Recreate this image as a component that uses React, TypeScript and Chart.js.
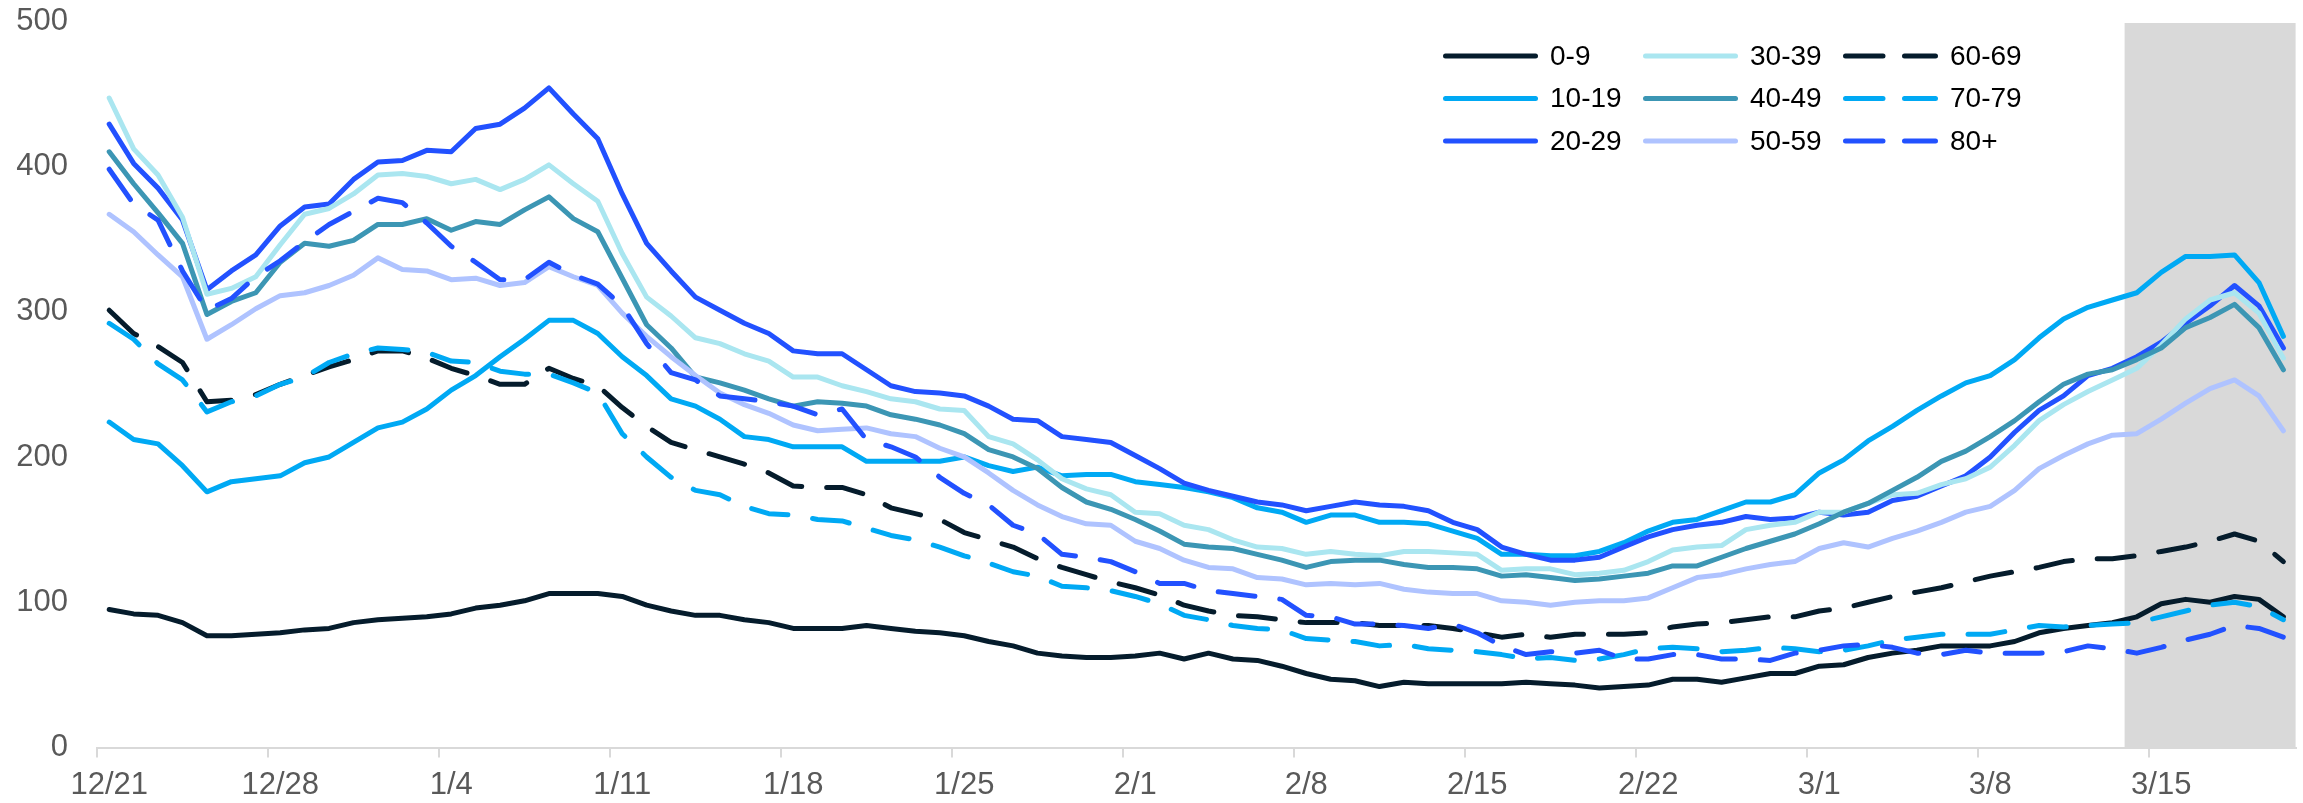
import React, { useEffect, useRef } from 'react';
import { Chart, registerables } from 'chart.js';

Chart.register(...registerables);

// ---------- data ----------
const categories = [
  '12/21', '12/22', '12/23', '12/24', '12/25', '12/26', '12/27', '12/28', '12/29', '12/30', '12/31',
  '1/1', '1/2', '1/3', '1/4', '1/5', '1/6', '1/7', '1/8', '1/9', '1/10', '1/11', '1/12', '1/13', '1/14', '1/15',
  '1/16', '1/17', '1/18', '1/19', '1/20', '1/21', '1/22', '1/23', '1/24', '1/25', '1/26', '1/27', '1/28', '1/29',
  '1/30', '1/31',
  '2/1', '2/2', '2/3', '2/4', '2/5', '2/6', '2/7', '2/8', '2/9', '2/10', '2/11', '2/12', '2/13', '2/14', '2/15',
  '2/16', '2/17', '2/18', '2/19', '2/20', '2/21', '2/22', '2/23', '2/24', '2/25', '2/26', '2/27', '2/28',
  '3/1', '3/2', '3/3', '3/4', '3/5', '3/6', '3/7', '3/8', '3/9', '3/10', '3/11', '3/12', '3/13', '3/14', '3/15',
  '3/16', '3/17', '3/18', '3/19', '3/20',
];

const tickLabels = ['12/21', '12/28', '1/4', '1/11', '1/18', '1/25', '2/1', '2/8', '2/15', '2/22', '3/1', '3/8', '3/15'];
const shadeStart = '3/14';

const yTicks = [0, 100, 200, 300, 400, 500];

const age0to9 = [
  95, 92, 91, 86, 77, 77, 78, 79, 81, 82,
  86, 88, 89, 90, 92, 96, 98, 101, 106, 106,
  106, 104, 98, 94, 91, 91, 88, 86, 82, 82,
  82, 84, 82, 80, 79, 77, 73, 70, 65, 63,
  62, 62, 63, 65, 61, 65, 61, 60, 56, 51,
  47, 46, 42, 45, 44, 44, 44, 44, 45, 44,
  43, 41, 42, 43, 47, 47, 45, 48, 51, 51,
  56, 57, 62, 65, 67, 70, 70, 70, 73, 79,
  82, 84, 86, 90, 99, 102, 100, 104, 102, 90,
];

const age10to19 = [
  224, 212, 209, 194, 176, 183, 185, 187, 196, 200,
  210, 220, 224, 233, 246, 256, 269, 281, 294, 294,
  285, 269, 256, 240, 235, 226, 214, 212, 207, 207,
  207, 197, 197, 197, 197, 200, 194, 190, 193, 187,
  188, 188, 183, 181, 179, 176, 172, 165, 162, 155,
  160, 160, 155, 155, 154, 149, 144, 133, 133, 132,
  132, 135, 141, 149, 155, 157, 163, 169, 169, 174,
  189, 198, 211, 221, 232, 242, 251, 256, 267, 282,
  295, 303, 308, 313, 327, 338, 338, 339, 320, 283,
];

const age20to29 = [
  429, 402, 385, 363, 315, 328, 339, 359, 372, 374,
  391, 403, 404, 411, 410, 426, 429, 440, 454, 436,
  419, 381, 347, 328, 310, 301, 292, 285, 273, 271,
  271, 260, 249, 245, 244, 242, 235, 226, 225, 214,
  212, 210, 201, 192, 182, 177, 173, 169, 167, 163,
  166, 169, 167, 166, 163, 155, 150, 138, 133, 129,
  129, 131, 138, 145, 150, 153, 155, 159, 157, 158,
  162, 160, 162, 170, 173, 180, 187, 200, 217, 232,
  242, 256, 261, 269, 279, 292, 304, 318, 304, 275,
];

const age30to39 = [
  447, 412, 394, 365, 312, 316, 324, 346, 367, 371,
  381, 394, 395, 393, 388, 391, 384, 391, 401, 388,
  376, 340, 310, 297, 282, 278, 271, 266, 255, 255,
  249, 245, 240, 238, 233, 232, 214, 209, 198, 185,
  178, 174, 162, 161, 153, 150, 143, 138, 137, 133,
  135, 133, 132, 135, 135, 134, 133, 122, 123, 123,
  119, 120, 122, 128, 136, 138, 139, 150, 153, 155,
  162, 162, 168, 174, 175, 181, 185, 193, 208, 225,
  236, 245, 253, 261, 277, 295, 308, 313, 299, 268,
];

const age40to49 = [
  410, 388, 368, 347, 298, 307, 313, 334, 347, 345,
  349, 360, 360, 364, 356, 362, 360, 370, 379, 364,
  355, 323, 291, 275, 255, 251, 246, 240, 235, 238,
  237, 235, 229, 226, 222, 216, 205, 200, 192, 179,
  169, 164, 157, 149, 140, 138, 137, 133, 129, 124,
  128, 129, 129, 126, 124, 124, 123, 118, 119, 117,
  115, 116, 118, 120, 125, 125, 131, 137, 142, 147,
  154, 162, 168, 177, 186, 197, 204, 214, 225, 238,
  250, 257, 260, 267, 275, 289, 296, 305, 289, 260,
];

const age50to59 = [
  367, 355, 339, 324, 281, 291, 302, 311, 313, 318,
  325, 337, 329, 328, 322, 323, 318, 320, 331, 324,
  318, 299, 283, 269, 256, 244, 236, 230, 222, 218,
  219, 220, 216, 214, 206, 200, 189, 177, 167, 159,
  154, 153, 142, 137, 129, 124, 123, 117, 116, 112,
  113, 112, 113, 109, 107, 106, 106, 101, 100, 98,
  100, 101, 101, 103, 110, 117, 119, 123, 126, 128,
  137, 141, 138, 144, 149, 155, 162, 166, 177, 192,
  201, 209, 215, 216, 226, 237, 247, 253, 242, 218,
];

const age60to69 = [
  301, 285, 276, 265, 238, 239, 243, 250, 256, 262,
  267, 273, 273, 268, 261, 256, 250, 250, 261, 254,
  249, 234, 221, 210, 205, 200, 195, 189, 180, 179,
  179, 174, 165, 161, 157, 148, 143, 138, 130, 124,
  119, 114, 110, 105, 98, 94, 91, 90, 88, 86,
  86, 86, 84, 84, 84, 82, 79, 76, 78, 76,
  78, 78, 78, 79, 83, 85, 86, 88, 90, 90,
  94, 96, 100, 104, 107, 110, 114, 118, 121, 124,
  128, 130, 130, 132, 135, 138, 142, 147, 142, 128,
];

const age70to79 = [
  292, 281, 264, 253, 231, 238, 242, 250, 255, 265,
  271, 275, 274, 272, 266, 265, 259, 257, 257, 251,
  244, 216, 200, 186, 177, 174, 166, 161, 160, 157,
  156, 151, 146, 143, 138, 132, 127, 121, 118, 111,
  110, 108, 104, 99, 91, 88, 84, 82, 81, 75,
  74, 73, 70, 71, 68, 67, 66, 64, 61, 62,
  60, 61, 64, 68, 69, 68, 66, 67, 69, 68,
  66, 67, 70, 74, 76, 78, 78, 78, 81, 84,
  83, 84, 85, 86, 90, 94, 98, 100, 97, 88,
];

const age80plus = [
  398, 374, 363, 328, 301, 309, 324, 335, 348, 360,
  369, 378, 375, 361, 345, 334, 322, 322, 334, 325,
  319, 304, 278, 258, 253, 242, 240, 238, 235, 229,
  233, 212, 207, 200, 186, 175, 167, 153, 147, 133,
  131, 128, 121, 113, 113, 108, 106, 104, 102, 91,
  90, 85, 85, 84, 82, 85, 79, 70, 64, 66,
  65, 67, 61, 61, 64, 64, 61, 61, 60, 65,
  67, 70, 71, 69, 65, 64, 67, 65, 65, 65,
  66, 70, 68, 65, 69, 74, 78, 84, 82, 76,
];

const seriesNames = ['0-9', '10-19', '20-29', '30-39', '40-49', '50-59', '60-69', '70-79', '80+'];
const seriesValues = [age0to9, age10to19, age20to29, age30to39, age40to49, age50to59, age60to69, age70to79, age80plus];
const seriesColors = ['#051C2C', '#00A9F4', '#2251FF', '#AAE6F0', '#3C96B4', '#AFC3FF', '#051C2C', '#00A9F4', '#2251FF'];
const seriesDashed = [false, false, false, false, false, false, true, true, true];

// ---------- styling / layout ----------
const W = 2303;
const H = 803;
const FONT = '"Liberation Sans", Arial, sans-serif';
const LINE_W = 5;
const DASH = [37, 25];

const shadePlugin = {
  id: 'shadePeriod',
  beforeDraw(chart: any) {
    const { ctx, chartArea, scales } = chart;
    const x = scales.x;
    const idx = categories.indexOf(shadeStart);
    const half = (x.getPixelForValue(1) - x.getPixelForValue(0)) / 2;
    const left = x.getPixelForValue(idx) - half;
    ctx.save();
    ctx.fillStyle = '#D9D9D9';
    ctx.fillRect(left, chartArea.top + 2, chartArea.right - left, chartArea.bottom - chartArea.top - 2);
    ctx.restore();
  },
};

const legendCols = [1443, 1643, 1843];
const legendRows = [56, 98.5, 141];

const legendPlugin = {
  id: 'gridLegend',
  afterDraw(chart: any) {
    const ctx = chart.ctx;
    ctx.save();
    chart.data.datasets.forEach((ds: any, i: number) => {
      const col = Math.floor(i / 3);
      const row = i % 3;
      const x0 = legendCols[col];
      const y = legendRows[row];
      ctx.strokeStyle = ds.borderColor;
      ctx.lineWidth = 5;
      ctx.lineCap = 'round';
      ctx.setLineDash([]);
      ctx.beginPath();
      if (seriesDashed[i]) {
        ctx.moveTo(x0 + 2.5, y);
        ctx.lineTo(x0 + 40, y);
        ctx.moveTo(x0 + 61.5, y);
        ctx.lineTo(x0 + 92.5, y);
      } else {
        ctx.moveTo(x0 + 2.5, y);
        ctx.lineTo(x0 + 92.5, y);
      }
      ctx.stroke();
      ctx.fillStyle = '#000000';
      ctx.font = `28px ${FONT}`;
      ctx.textAlign = 'left';
      ctx.textBaseline = 'middle';
      ctx.fillText(ds.label, x0 + 107, y + 1);
    });
    ctx.restore();
  },
};

export default function App() {
  const ref = useRef<HTMLCanvasElement>(null);

  useEffect(() => {
    if (!ref.current) return;
    const chart = new Chart(ref.current, {
      type: 'line',
      data: {
        labels: categories,
        datasets: seriesNames.map((name, i) => ({
          label: name,
          data: seriesValues[i],
          borderColor: seriesColors[i],
          backgroundColor: seriesColors[i],
          borderWidth: LINE_W,
          borderDash: seriesDashed[i] ? DASH : [],
          borderCapStyle: 'round',
          borderJoinStyle: 'round',
          pointRadius: 0,
          pointHoverRadius: 0,
          tension: 0,
          fill: false,
          order: -i,
        })),
      },
      options: {
        responsive: false,
        animation: false,
        events: [],
        layout: { padding: { top: 21, right: 7.4, bottom: 0, left: 0 } },
        plugins: {
          legend: { display: false },
          tooltip: { enabled: false },
        },
        scales: {
          x: {
            type: 'category',
            offset: true,
            grid: {
              offset: true,
              drawOnChartArea: false,
              drawTicks: true,
              tickLength: 10,
              lineWidth: 2,
              color: (c: any) => (typeof c.index === 'number' && tickLabels.includes(categories[c.index]) ? '#D9D9D9' : 'rgba(0,0,0,0)'),
            },
            border: { display: true, color: '#D9D9D9', width: 2 },
            ticks: {
              autoSkip: false,
              maxRotation: 0,
              minRotation: 0,
              padding: 9,
              color: '#595959',
              font: { family: FONT, size: 31 },
              callback: (_v: any, index: number) => (tickLabels.includes(categories[index]) ? categories[index] : ''),
            },
            afterFit: (s: any) => {
              s.height = 55.4;
            },
          },
          y: {
            min: yTicks[0],
            max: yTicks[yTicks.length - 1],
            afterBuildTicks: (s: any) => {
              s.ticks = yTicks.map((v) => ({ value: v }));
            },
            grid: { display: false, drawTicks: true, tickLength: 29 },
            border: { display: false },
            ticks: {
              padding: 0,
              color: '#595959',
              font: { family: FONT, size: 31 },
            },
            afterFit: (s: any) => {
              s.width = 97;
            },
          },
        },
      },
      plugins: [shadePlugin, legendPlugin],
    } as any);
    return () => chart.destroy();
  }, []);

  return (
    <div style={{ position: 'absolute', left: 0, top: 0, width: W, height: H, background: '#FFFFFF' }}>
      <canvas ref={ref} width={W} height={H} style={{ display: 'block', width: W, height: H }} />
    </div>
  );
}
